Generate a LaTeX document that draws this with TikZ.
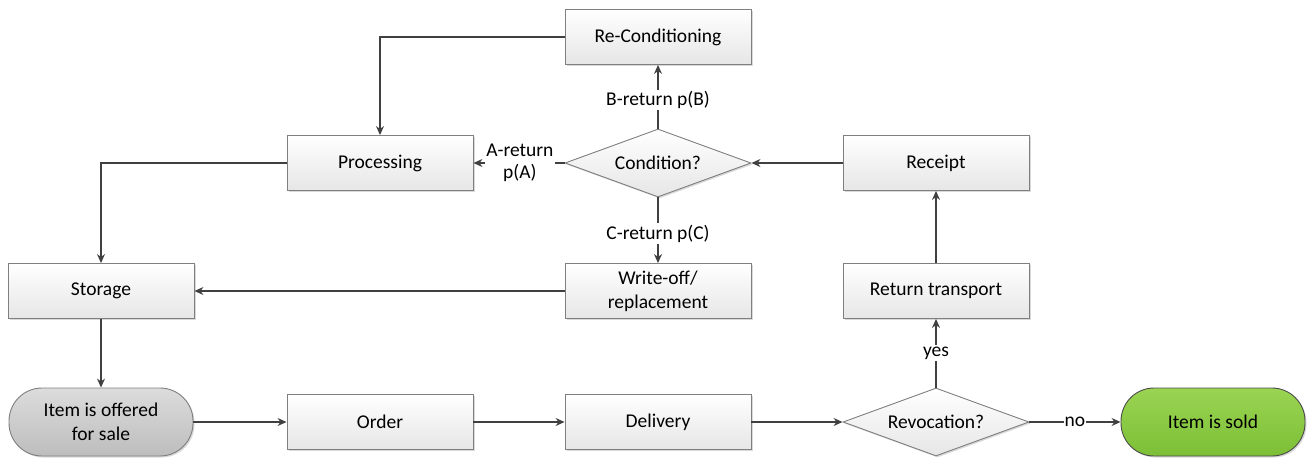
\documentclass[tikz,border=0pt]{standalone}
\usepackage{fontspec}
\setmainfont{Carlito}
\usetikzlibrary{shapes.geometric,arrows.meta,shadows}
\definecolor{bordergray}{HTML}{7F7F7F}
\definecolor{linegray}{HTML}{404040}
\definecolor{boxbot}{HTML}{E6E6E6}
\definecolor{termtop}{HTML}{DCDCDC}
\definecolor{termbot}{HTML}{BDBDBD}
\definecolor{greentop}{HTML}{9AD452}
\definecolor{greenbot}{HTML}{7CBF36}
\tikzset{
  base/.style={draw=bordergray, line width=0.9pt, align=center,
    font=\fontsize{19.5}{24}\selectfont, text=black,
    drop shadow={shadow xshift=1.5pt, shadow yshift=-1.5pt, fill=black!25, opacity=0.6}},
  box/.style={base, rectangle, top color=white, bottom color=boxbot,
    minimum width=186pt, minimum height=55pt, inner sep=2pt},
  dia/.style={base, diamond, aspect=2.72, top color=white, bottom color=boxbot,
    minimum width=186pt, minimum height=68pt, inner sep=0pt},
  term/.style={base, rectangle, rounded corners=33pt,
    minimum width=184pt, minimum height=68pt, inner sep=2pt},
  conn/.style={draw=linegray, line width=1.2pt, -{Stealth[length=9pt,width=8pt]}},
  lbl/.style={fill=white, inner sep=1.5pt, align=center,
    font=\fontsize{19.5}{22}\selectfont},
}
\begin{document}
\begin{tikzpicture}[x=1pt,y=-1pt]
\useasboundingbox (0,0) rectangle (1307,458);
\node[box] (recond) at (658,37) {Re-Conditioning};
\node[box] (proc) at (380,163) {Processing};
\node[dia] (cond) at (658,163) {Condition?};
\node[box] (receipt) at (936,163) {Receipt};
\node[box] (storage) at (101,291) {Storage};
\node[box] (writeoff) at (658,291) {Write-off/\\replacement};
\node[box] (rettrans) at (936,291) {Return transport};
\node[term, top color=termtop, bottom color=termbot] (offered) at (101,422) {Item is offered\\for sale};
\node[box] (order) at (380,422) {Order};
\node[box] (delivery) at (658,422) {Delivery};
\node[dia] (revoc) at (936,422) {Revocation?};
\node[term, top color=greentop, bottom color=greenbot, draw=black!70] (sold) at (1213,422) {Item is sold};

\draw[conn] (recond.west) -| (proc.north);
\draw[conn] (cond.north) -- node[lbl, pos=0.45] {B-return p(B)} (recond.south);
\draw[conn] (cond.west) -- node[lbl, pos=0.49] {A-return\\p(A)} (proc.east);
\draw[conn] (cond.south) -- node[lbl, pos=0.55] {C-return p(C)} (writeoff.north);
\draw[conn] (receipt.west) -- (cond.east);
\draw[conn] (proc.west) -| (storage.north);
\draw[conn] (writeoff.west) -- (storage.east);
\draw[conn] (rettrans.north) -- (receipt.south);
\draw[conn] (storage.south) -- (offered.north);
\draw[conn] (offered.east) -- (order.west);
\draw[conn] (order.east) -- (delivery.west);
\draw[conn] (delivery.east) -- (revoc.west);
\draw[conn] (revoc.north) -- node[lbl, pos=0.5] {yes} (rettrans.south);
\draw[conn] (revoc.east) -- node[lbl, pos=0.5, inner sep=1pt] {no} (sold.west);
\end{tikzpicture}
\end{document}
